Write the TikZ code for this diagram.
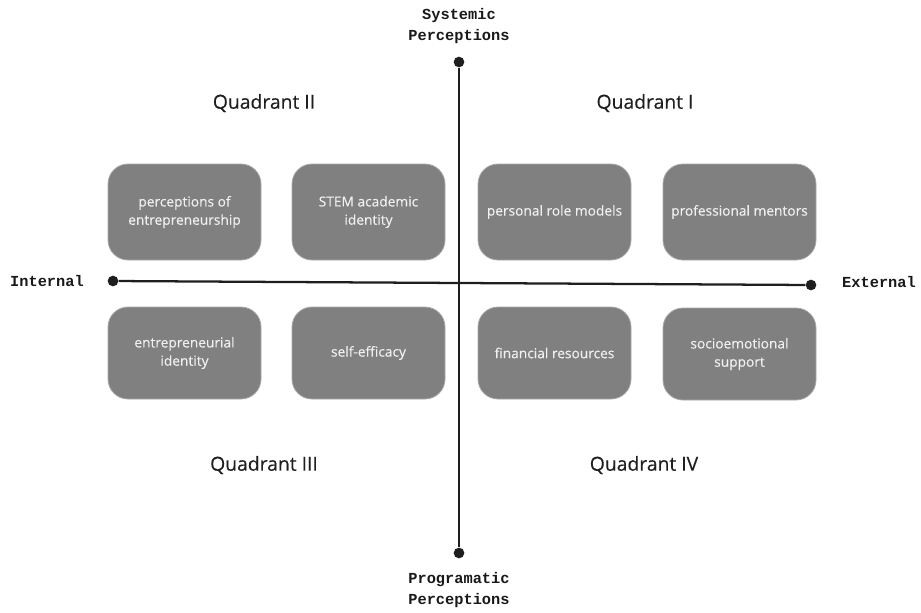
\documentclass[tikz,border=0pt]{standalone}
\usepackage{fontspec}
\setmainfont{Open Sans}
\setmonofont{Liberation Mono}
\newfontfamily\boxsans{Open Sans}[FakeBold=0.3]
\definecolor{boxgray}{HTML}{808080}
\definecolor{boxline}{HTML}{A8A8A8}
\definecolor{axisblack}{HTML}{1E1E1E}
\tikzset{
    factor/.style={draw=boxline, line width=0.6pt, fill=boxgray, rounded corners=15pt,
        minimum width=114.75pt, minimum height=72pt, align=center,
        text=white!94!black, font=\boxsans\fontsize{10.3}{13.7}\selectfont},
    lowfactor/.style={factor, minimum height=69pt},
    quadlabel/.style={text=black!88, font=\boxsans\fontsize{14.5}{17}\selectfont},
    axislabel/.style={align=center, text=black!90, font=\ttfamily\bfseries\fontsize{11.5}{15.5}\selectfont},
    enddot/.style={circle, fill=axisblack, inner sep=0pt, minimum size=8pt}
}
\begin{document}
\begin{tikzpicture}[x=0.75pt, y=-0.75pt]
        \useasboundingbox (0,0) rectangle (921,612);

        % Axis end points
        \node[enddot] (top) at (459,62) {};
        \node[enddot] (bottom) at (459,553) {};
        \node[enddot] (left) at (113,281) {};
        \node[enddot] (right) at (811,285) {};

        % Draw axes
        \draw[axisblack, line width=1.7pt] (top) -- (bottom);
        \draw[axisblack, line width=1.7pt] (left) -- (right);

        % Axis labels
        \node[axislabel] (systemic) at (459,26) {Systemic\\Perceptions};
        \node[axislabel] (programatic) at (459,590) {Programatic\\Perceptions};
        \node[axislabel] (internal) at (47,281) {Internal};
        \node[axislabel] (external) at (879,282) {External};

        % Quadrant labels
        \node[quadlabel] (q1) at (645,103) {Quadrant I};
        \node[quadlabel] (q2) at (264,103) {Quadrant II};
        \node[quadlabel] (q3) at (264,465) {Quadrant III};
        \node[quadlabel] (q4) at (644,465) {Quadrant IV};

        % Factor boxes, upper row
        \node[factor] (perceptions) at (184.5,212) {perceptions of\\entrepreneurship};
        \node[factor] (stem) at (368.5,212) {STEM academic\\identity};
        \node[factor] (rolemodels) at (554.5,212) {personal role models};
        \node[factor] (mentors) at (739.5,212) {professional mentors};

        % Factor boxes, lower row
        \node[lowfactor] (entidentity) at (184.5,353) {entrepreneurial\\identity};
        \node[lowfactor] (efficacy) at (368.5,353) {self-efficacy};
        \node[lowfactor] (financial) at (554.5,353) {financial resources};
        \node[lowfactor] (support) at (739.5,354) {socioemotional\\support};

    \end{tikzpicture}
\end{document}
